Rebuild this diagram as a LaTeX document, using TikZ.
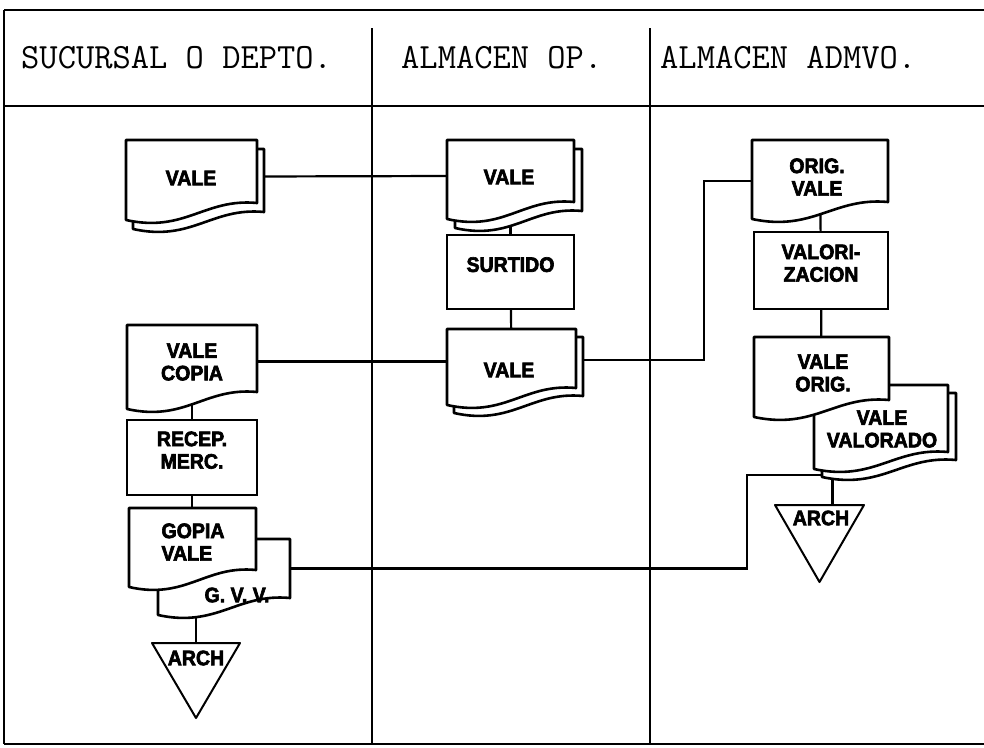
\documentclass[tikz,border=0pt]{standalone}
\usepackage{fontspec}
\newfontfamily\lblfont[BoldFeatures={FakeBold=3, FakeStretch=0.93}]{Liberation Sans}
\usetikzlibrary{calc,fit}
\pgfdeclarelayer{bg}
\pgfdeclarelayer{mid}
\pgfsetlayers{bg,mid,main}
\tikzset{
  docline/.style={line width=2.6pt, fill=white, line join=round},
  triline/.style={line width=2pt, fill=white, line join=round},
  body/.style={inner sep=0pt, outer sep=0pt},
  lbl/.style={font=\lblfont\bfseries\fontsize{21}{22.5}\selectfont, align=center, inner sep=0pt},
  proc/.style={draw, line width=2.6pt, fill=white, inner sep=0pt, outer sep=0pt,
    font=\lblfont\bfseries\fontsize{21}{22.5}\selectfont, align=left},
  conn/.style={line width=2.2pt},
  grid/.style={line width=2.8pt},
  hdr/.style={font=\ttfamily\fontsize{35.5}{40}\selectfont, inner sep=0pt, anchor=base west},
}
\newcommand\docshape[4][]{%
  \draw[docline,#1] ($(#2.north west)+(#3,#4)$) -- ($(#2.north east)+(#3,#4)$) -- ($(#2.south east)+(#3,#4)$)
   .. controls ($(#2.south east)!0.4!(#2.south west)+(#3,#4-5)$) and ($(#2.south west)!0.45!(#2.south east)+(#3,#4+30)$)
   .. ($(#2.south west)+(#3,#4+17)$) -- cycle;}
\newcommand\archshape[1]{%
  \draw[triline] (#1.north west) -- (#1.north east) -- (#1.south) -- cycle;}
\begin{document}
\begin{tikzpicture}[x=1pt,y=-1pt]
\useasboundingbox (0,0) rectangle (984,747);

% headers
\node[hdr] (h1) at (21,68) {SUCURSAL O DEPTO.};
\node[hdr] (h2) at (401,68) {ALMACEN OP.};
\node[hdr] (h3) at (660,68) {ALMACEN ADMVO.};

% column 1
\node[body, fit={(126,140) (257,203)}] (v1) {};
\node[lbl] (v1t) at (191,178) {VALE};
\node[body, fit={(127,325) (257,392)}] (vc) {};
\node[lbl] (vct) at (192,362) {VALE\\COPIA};
\node[proc, fit={(127,420) (257,495)}] (rm) {RECEP.\\MERC.};
\node[body, fit={(158,539) (290,598)}] (cvv) {};
\node[body, fit={(129,508) (256,570)}] (cv) {};
\node[lbl, align=left] (cvt) at (193,542) {GOPIA\\VALE};
\node[lbl] (cvvt) at (237,595) {G. V. V.};
\node[body, fit={(152,643) (240,718)}] (a1) {};
\node[lbl] (a1t) at (196,658) {ARCH};

% column 2
\node[body, fit={(447,140) (574,202)}] (w1) {};
\node[lbl] (w1t) at (509,177) {VALE};
\node[proc, fit={(447,235) (574,309)}] (su) {SURTIDO};
\node[body, fit={(447,329) (576,388)}] (w2) {};
\node[lbl] (w2t) at (509,370) {VALE};

% column 3
\node[body, fit={(752,140) (888,202)}] (ov) {};
\node[lbl] (ovt) at (817,177) {ORIG.\\VALE};
\node[proc, fit={(754,232) (888,309)}] (va) {VALORI-\\ZACION};
\node[body, fit={(814,385) (948,452)}] (vv) {};
\node[body, fit={(754,337) (889,400)}] (vo) {};
\node[lbl] (vot) at (823,373) {VALE\\ORIG.};
\node[lbl] (vvt) at (882,429) {VALE\\VALORADO};
\node[body, fit={(775,505) (864,582)}] (a2) {};
\node[lbl] (a2t) at (821,518) {ARCH};

\coordinate (k1) at (704,181);
\coordinate (k2) at (747,475);

\begin{pgfonlayer}{bg}
  % table
  \draw[grid] (4,10) -- (984,10);
  \draw[grid] (4,106) -- (984,106);
  \draw[grid] (4,744) -- (984,744);
  \draw[grid] (4,10) -- (4,744);
  \draw[grid] (372,28) -- (372,744);
  \draw[grid] (650,28) -- (650,744);
  % connectors
  \draw[conn] ([yshift=-5pt]v1.east) -- ([yshift=-5pt]w1.west);
  \draw[conn] ([yshift=-3pt]vc.east) -- ([yshift=-3pt]w2.west);
  \draw[conn] (vc) -- (rm);
  \draw[conn] (rm.south) -- (rm.south |- cv.north);
  \draw[conn] (a1.north) -- (a1.north |- cvv.south);
  \draw[conn] (cvv.east) -| (k2) -| ([xshift=13pt]a2.north);
  \draw[conn] (w1) -- (su);
  \draw[conn] (su) -- (w2);
  \draw[conn] ([yshift=-1.5pt]w2.east) -| (k1) -- (ov.west |- k1);
  \draw[conn] (ov) -- (va);
  \draw[conn] (va) -- (vo);
\end{pgfonlayer}

\begin{pgfonlayer}{mid}
  \docshape{v1}{7}{9}
  \docshape{v1}{0}{0}
  \docshape{vc}{0}{0}
  \docshape{cvv}{0}{0}
  \docshape{cv}{0}{0}
  \archshape{a1}
  \docshape{w1}{8}{9}
  \docshape{w1}{0}{0}
  \docshape{w2}{7}{8}
  \docshape{w2}{0}{0}
  \docshape{ov}{0}{0}
  \docshape{vv}{8}{8}
  \docshape{vv}{0}{0}
  \docshape{vo}{0}{0}
  \archshape{a2}
\end{pgfonlayer}
\end{tikzpicture}
\end{document}
